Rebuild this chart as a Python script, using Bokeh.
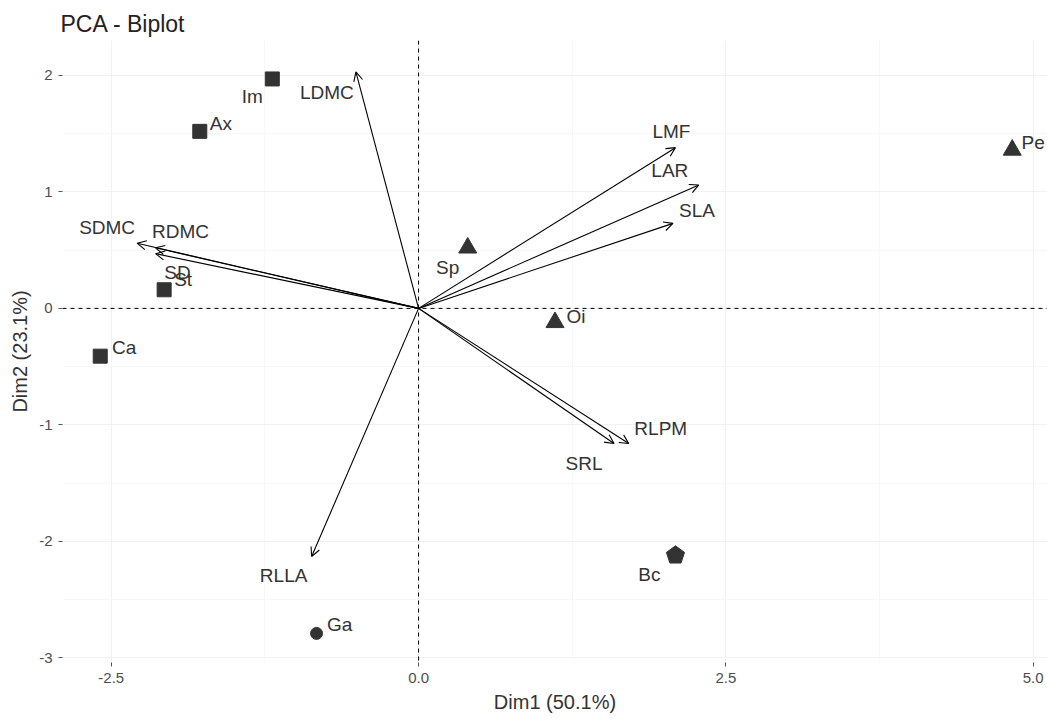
import numpy as np
from bokeh.plotting import figure
from bokeh.models import Span, Arrow, OpenHead, ColumnDataSource, Range1d, FixedTicker
from bokeh.core.properties import value
from bokeh.embed import file_html
from bokeh.resources import INLINE

# ---- data ----
ind_names = ["Im", "Ax", "St", "Ca", "Sp", "Oi", "Pe", "Bc", "Ga"]
ind_x = [-1.19, -1.78, -2.07, -2.59, 0.40, 1.11, 4.83, 2.09, -0.83]
ind_y = [1.97, 1.52, 0.16, -0.41, 0.52, -0.12, 1.36, -2.12, -2.79]
ind_shape = ["square", "square", "square", "square", "triangle", "triangle", "triangle", "pentagon", "circle"]

var_names = ["LDMC", "LMF", "LAR", "SLA", "SDMC", "RDMC", "SD", "RLPM", "SRL", "RLLA"]
var_x = [-0.51, 2.09, 2.28, 2.07, -2.29, -2.14, -2.14, 1.71, 1.59, -0.87]
var_y = [2.03, 1.38, 1.06, 0.73, 0.56, 0.52, 0.47, -1.16, -1.16, -2.13]

x_ticks = [-2.5, 0.0, 2.5, 5.0]
x_tick_labels = ["-2.5", "0.0", "2.5", "5.0"]
y_ticks = [-3, -2, -1, 0, 1, 2]
y_tick_labels = ["-3", "-2", "-1", "0", "1", "2"]
x_title = "Dim1 (50.1%)"
y_title = "Dim2 (23.1%)"
title = "PCA - Biplot"

# ---- layout / style (not data) ----
ind_dx = [-20, 21, 19, 24, -20, 21, 21, -26, 23]
ind_dy = [18, -8, -10, -9, 20, -6, -7, 19, -9]
var_dx = [-29, -4, -29, 24, -30, 25, 22, 32, -30, -28]
var_dy = [21, -16, -14, -13, -16, -16, 19, -15, 20, 19]

W, H = 1047, 719
BL, BR, BT, BB = 62, 0, 40, 57
XR = (-2.897, 5.117)
YR = (-3.04, 2.30)
DARK = "#333333"
FONT = "Liberation Sans"

p = figure(width=W, height=H, output_backend="svg", toolbar_location=None,
           x_range=Range1d(*XR), y_range=Range1d(*YR),
           min_border_left=BL, min_border_right=BR, min_border_top=BT, min_border_bottom=BB,
           title=title)
p.outline_line_color = None
p.background_fill_color = "white"
p.title.text_font = FONT
p.title.text_font_size = "23px"
p.title.text_font_style = "normal"
p.title.text_color = "#222222"
p.title.standoff = 8
p.title.offset = -2

p.xaxis.ticker = FixedTicker(ticks=x_ticks, minor_ticks=[-1.25, 1.25, 3.75])
p.yaxis.ticker = FixedTicker(ticks=y_ticks, minor_ticks=[-2.5, -1.5, -0.5, 0.5, 1.5])
p.xaxis.major_label_overrides = {t: l for t, l in zip(x_ticks, x_tick_labels)}
p.yaxis.major_label_overrides = {t: l for t, l in zip(y_ticks, y_tick_labels)}
for ax in (p.xaxis, p.yaxis):
    ax.axis_line_color = None
    ax.major_tick_line_color = "#555555"
    ax.major_tick_out = 4
    ax.major_tick_in = 0
    ax.minor_tick_line_color = None
    ax.major_label_text_font = FONT
    ax.major_label_text_font_size = "15px"
    ax.major_label_text_color = "#4d4d4d"
    ax.major_label_standoff = 6
    ax.axis_label_text_font = FONT
    ax.axis_label_text_font_size = "20px"
    ax.axis_label_text_font_style = "normal"
    ax.axis_label_text_color = "#333333"
p.xaxis.axis_label = x_title
p.yaxis.axis_label = y_title
p.xaxis.axis_label_standoff = 5
p.yaxis.axis_label_standoff = 5

p.grid.grid_line_color = "#f1f1f1"
p.grid.minor_grid_line_color = "#f7f7f7"

p.add_layout(Span(location=0, dimension="height", line_color="black", line_dash="4 4", line_width=1))
p.add_layout(Span(location=0, dimension="width", line_color="black", line_dash="4 4", line_width=1))

# variable arrows
vsrc = ColumnDataSource(dict(x=var_x, y=var_y, name=var_names, dx=var_dx, dy=var_dy))
p.add_layout(Arrow(end=OpenHead(size=9, line_width=1.1, line_color="black"),
                   x_start=0, y_start=0, x_end="x", y_end="y", source=vsrc,
                   line_color="black", line_width=1.1))
p.text(x="x", y="y", text="name", x_offset="dx", y_offset="dy", source=vsrc,
       text_font=value(FONT), text_font_size="19px", text_color=DARK,
       text_align="center", text_baseline="middle")

# individuals
isrc = ColumnDataSource(dict(x=ind_x, y=ind_y, name=ind_names, shape=ind_shape, dx=ind_dx, dy=ind_dy))
for shp, size in (("square", 14), ("triangle", 18), ("circle", 12)):
    idx = [i for i, s in enumerate(ind_shape) if s == shp]
    p.scatter([ind_x[i] for i in idx], [ind_y[i] for i in idx], marker=shp, size=size,
              fill_color=DARK, line_color=DARK)

# pentagon (no built-in marker): vertices from data point in screen-pixel radius
fw = W - BL - BR
fh = H - BT - BB
ux = (XR[1] - XR[0]) / fw
uy = (YR[1] - YR[0]) / fh
r = 9.5
ang = np.deg2rad(90 + 72 * np.arange(5))
pxs, pys = [], []
for i, s in enumerate(ind_shape):
    if s == "pentagon":
        pxs.append(list(ind_x[i] + r * np.cos(ang) * ux))
        pys.append(list(ind_y[i] + r * np.sin(ang) * uy))
p.patches(pxs, pys, fill_color=DARK, line_color=DARK)

p.text(x="x", y="y", text="name", x_offset="dx", y_offset="dy", source=isrc,
       text_font=value(FONT), text_font_size="19px", text_color=DARK,
       text_align="center", text_baseline="middle")

open("out.html", "w").write(file_html(p, INLINE))
